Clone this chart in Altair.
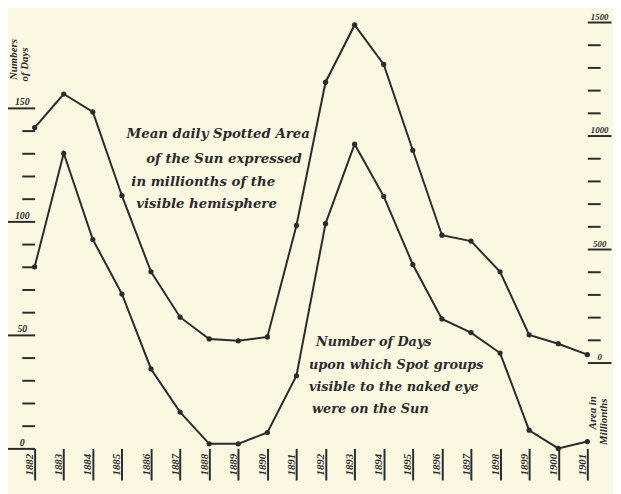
import altair as alt
import pandas as pd

# ---- data ----
years = [1882, 1883, 1884, 1885, 1886, 1887, 1888, 1889, 1890, 1891,
         1892, 1893, 1894, 1895, 1896, 1897, 1898, 1899, 1900, 1901]
days_visible = [80, 130, 92, 68, 35, 16, 2, 2, 7, 32,
                99, 134, 111, 81, 57, 51, 42, 8, 0, 3]
spot_area = [1035, 1183, 1104, 735, 400, 200, 104, 96, 113, 604,
             1235, 1487, 1313, 935, 561, 535, 400, 122, 83, 35]
left_ticks = list(range(0, 151, 10))
right_ticks = list(range(0, 1501, 100))

ann_area = ["Mean daily Spotted Area", "of the Sun expressed",
            "in millionths of the", "visible hemisphere"]
ann_days = ["Number of Days", "upon which Spot groups",
            "visible to the naked eye", "were on the Sun"]

df = pd.DataFrame({"year": years, "days": days_visible, "area": spot_area})

INK = "#2b2b2b"
FONT = "Liberation Serif"
NOTE_FONT = "DejaVu Serif"
BG = "#FAF8E1"

x_enc = alt.X(
    "year:Q",
    scale=alt.Scale(domain=[1882, 1901], nice=False, zero=False),
    axis=alt.Axis(values=years, format="d", labelAngle=270, labelAlign="right",
                  labelBaseline="alphabetic", labelPadding=-27, labelOffset=-2,
                  tickSize=32, tickWidth=2, tickColor=INK, domain=False, grid=False,
                  title=None, labelFont=FONT, labelFontSize=11, labelFontStyle="italic",
                  labelFontWeight="bold", labelColor=INK, labelOverlap=False,
                  labelFlush=False),
)

y_days = alt.Y(
    "days:Q",
    scale=alt.Scale(domain=[0, 187.8], nice=False, zero=False),
    axis=alt.Axis(orient="left", values=left_ticks, format="d",
                  labelExpr="datum.value % 50 === 0 ? datum.label : ''",
                  tickSize={"condition": {"test": "datum.value % 50 === 0", "value": 28}, "value": 13},
                  tickWidth=2, tickColor=INK, domain=False, grid=False, title=None,
                  labelAlign="center", labelBaseline="alphabetic", labelPadding=-15,
                  labelOffset=-3, labelFont=FONT, labelFontSize=10, labelFontStyle="italic",
                  labelFontWeight="bold", labelColor=INK, labelOverlap=False, labelFlush=False),
)

y_area = alt.Y(
    "area:Q",
    scale=alt.Scale(domain=[-378, 1500], nice=False, zero=False),
    axis=alt.Axis(orient="right", values=right_ticks, format="d",
                  labelExpr="datum.value % 500 === 0 ? datum.label : ''",
                  tickSize={"condition": {"test": "datum.value % 500 === 0", "value": 24}, "value": 13},
                  tickWidth=2, tickColor=INK, domain=False, grid=False, title=None,
                  labelAlign="center", labelBaseline="alphabetic", labelPadding=-12,
                  labelOffset=-3, labelFont=FONT, labelFontSize=9, labelFontStyle="italic",
                  labelFontWeight="bold", labelColor=INK, labelOverlap=False, labelFlush=False),
)

pt = alt.OverlayMarkDef(filled=True, size=28, color=INK)
days_chart = alt.Chart(df).mark_line(color=INK, strokeWidth=2, point=pt).encode(x=x_enc, y=y_days)
area_chart = alt.Chart(df).mark_line(color=INK, strokeWidth=2, point=pt).encode(x=x_enc, y=y_area)

one = pd.DataFrame({"k": [0]})


def note(text, px, py, size=13.5, angle=0, align="left", font=NOTE_FONT):
    return alt.Chart(one).mark_text(
        font=font, fontSize=size, fontStyle="italic", fontWeight="bold",
        color=INK, align=align, baseline="middle", angle=angle,
    ).encode(x=alt.value(px), y=alt.value(py), text=alt.value(text))


# plot origin is at page (35, 19)
ox, oy = 35, 19
notes = []
area_pos = [(128, 133), (148, 158), (133, 181), (138, 203)]
for t, (px, py) in zip(ann_area, area_pos):
    notes.append(note(t, px - ox, py - oy))
days_pos = [(320, 343), (313, 367), (313, 389), (316, 411)]
for t, (px, py) in zip(ann_days, days_pos):
    notes.append(note(t, px - ox, py - oy, size=13))

# axis titles
notes.append(note("Numbers", 14 - ox, 57 - oy, size=11, angle=270, align="center", font=FONT))
notes.append(note("of Days", 25 - ox, 62 - oy, size=11, angle=270, align="center", font=FONT))
notes.append(note("Area in", 601 - ox, 415 - oy, size=11, angle=270, align="center", font=FONT))
notes.append(note("Millionths", 612 - ox, 424 - oy, size=11, angle=270, align="center", font=FONT))

chart = (
    alt.layer(days_chart, area_chart, *notes)
    .resolve_scale(y="independent")
    .properties(width=560, height=432, autosize="none",
                padding={"left": 27, "top": 11, "right": 26, "bottom": 43})
    .configure(background=BG)
    .configure_view(stroke=None)
)

chart.save("out.html", embed_options={"renderer": "svg", "actions": False})
